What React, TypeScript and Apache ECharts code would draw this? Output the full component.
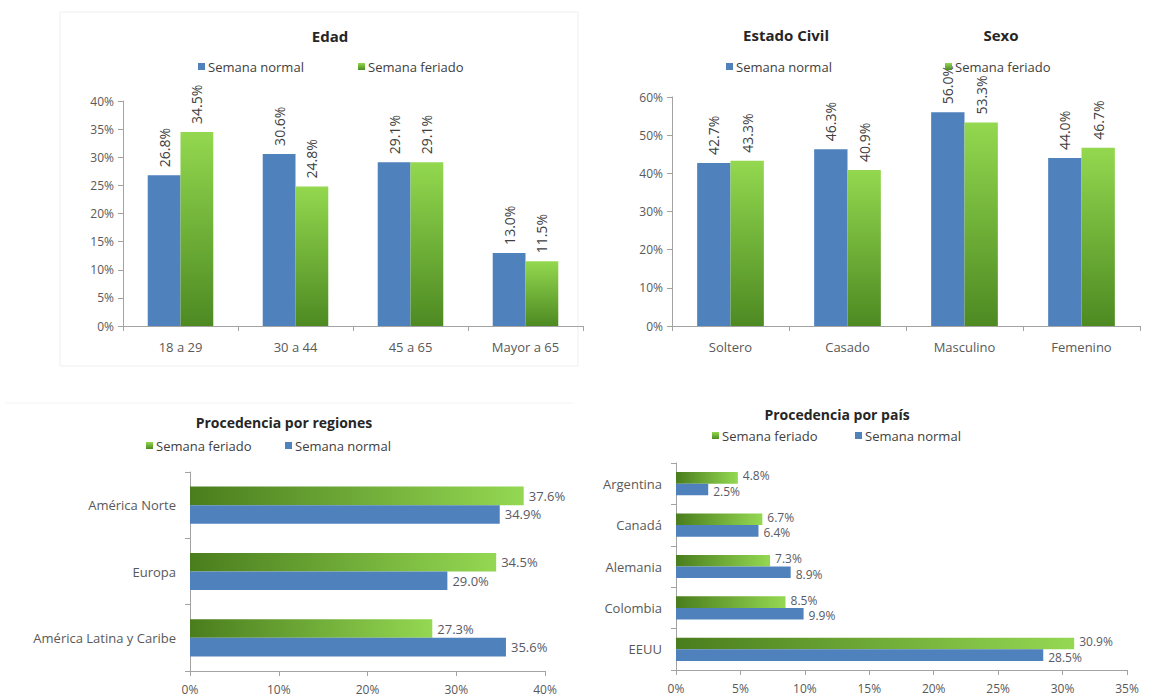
import React, { useEffect, useRef } from 'react';
import * as echarts from 'echarts';

// ---------- data ----------
const edadCategories = ['18 a 29', '30 a 44', '45 a 65', 'Mayor a 65'];
const edadNormal = [26.8, 30.6, 29.1, 13.0];
const edadFeriado = [34.5, 24.8, 29.1, 11.5];

const civilSexoCategories = ['Soltero', 'Casado', 'Masculino', 'Femenino'];
const civilSexoNormal = [42.7, 46.3, 56.0, 44.0];
const civilSexoFeriado = [43.3, 40.9, 53.3, 46.7];

const regionCategories = ['América Norte', 'Europa', 'América Latina y Caribe'];
const regionFeriado = [37.6, 34.5, 27.3];
const regionNormal = [34.9, 29.0, 35.6];

const paisCategories = ['Argentina', 'Canadá', 'Alemania', 'Colombia', 'EEUU'];
const paisFeriado = [4.8, 6.7, 7.3, 8.5, 30.9];
const paisNormal = [2.5, 6.4, 8.9, 9.9, 28.5];

const NORMAL = 'Semana normal';
const FERIADO = 'Semana feriado';

const FONT = '"Open Sans", "Noto Sans", sans-serif';
const AXIS_COLOR = '#a3a3a3';
const TEXT_COLOR = '#595959';
const BLUE = '#4f81bd';

export default function App() {
  const ref = useRef<HTMLDivElement>(null);

  useEffect(() => {
    if (!ref.current) return;
    const chart = echarts.init(ref.current, null, { renderer: 'svg' });

    const greenV = new echarts.graphic.LinearGradient(0, 0, 0, 1, [
      { offset: 0, color: '#93d84f' },
      { offset: 1, color: '#4d8a22' },
    ]);
    const greenH = new echarts.graphic.LinearGradient(0, 0, 1, 0, [
      { offset: 0, color: '#4a7d1d' },
      { offset: 1, color: '#94d852' },
    ]);

    const pct = (v: number) => v + '%';
    const fmt1 = (p: any) => Number(p.value).toFixed(1) + '%';

    const vLabel = {
      show: true,
      position: 'top',
      rotate: 90,
      align: 'left',
      verticalAlign: 'middle',
      distance: 8,
      color: '#404040',
      fontSize: 14,
      fontFamily: FONT,
      formatter: fmt1,
    };
    const hLabel = {
      show: true,
      position: 'right',
      distance: 5,
      color: '#5a5a66',
      fontSize: 13,
      fontFamily: FONT,
      formatter: fmt1,
    };
    const hLabelSmallUp = { ...hLabel, fontSize: 12, lineHeight: 12, offset: [0, -2] };
    const hLabelSmallDown = { ...hLabel, fontSize: 12, lineHeight: 12, offset: [0, 2] };

    const axisLine = { show: true, lineStyle: { color: AXIS_COLOR, width: 1 } };
    const axisTick = { show: true, length: 5, lineStyle: { color: AXIS_COLOR } };
    const valLabel = { color: TEXT_COLOR, fontSize: 12, fontFamily: FONT, formatter: pct, margin: 9 };
    const catLabelX = { color: TEXT_COLOR, fontSize: 13, fontFamily: FONT, margin: 14 };
    const catLabelY = { color: TEXT_COLOR, fontSize: 13, fontFamily: FONT, margin: 14 };

    const legendItem = (name: string, left: number, top: number) => ({
      data: [name],
      left,
      top,
      padding: 0,
      icon: 'rect',
      itemWidth: 7,
      itemHeight: 7,
      selectedMode: false,
      textStyle: { color: '#404040', fontSize: 13, fontFamily: FONT, padding: [0, 0, 0, -2] },
    });

    const titleText = (text: string, x: number, y: number, size: number) => ({
      type: 'text',
      x,
      y,
      style: {
        text,
        fill: '#262626',
        fontSize: size,
        fontWeight: 'bold',
        fontFamily: FONT,
        textAlign: 'center',
        textVerticalAlign: 'middle',
        align: 'center',
        verticalAlign: 'middle',
      },
    });

    const option: any = {
      animation: false,
      backgroundColor: '#ffffff',
      graphic: [
        {
          type: 'rect',
          shape: { x: 60, y: 12, width: 518, height: 354 },
          style: { fill: 'none', stroke: '#efefef', lineWidth: 1 },
          silent: true,
        },
        {
          type: 'line',
          shape: { x1: 5, y1: 403, x2: 572, y2: 403 },
          style: { stroke: '#f2f2f2', lineWidth: 1 },
          silent: true,
        },
        titleText('Edad', 330, 36, 15),
        titleText('Estado Civil', 786, 35, 15),
        titleText('Sexo', 1001, 35, 15),
        titleText('Procedencia por regiones', 284, 422, 14),
        titleText('Procedencia por país', 837, 414, 14),
      ],
      legend: [
        legendItem(NORMAL, 198, 60),
        legendItem(FERIADO, 358, 60),
        legendItem(NORMAL, 726, 60),
        legendItem(FERIADO, 945, 60),
        legendItem(FERIADO, 146, 439),
        legendItem(NORMAL, 285, 439),
        legendItem(FERIADO, 712, 429),
        legendItem(NORMAL, 855, 429),
      ],
      grid: [
        { left: 123, top: 101, width: 460, height: 225 },
        { left: 672, top: 97, width: 468, height: 229 },
        { left: 190, top: 472, width: 355, height: 199 },
        { left: 676, top: 463, width: 451, height: 207 },
      ],
      xAxis: [
        {
          gridIndex: 0,
          type: 'category',
          data: edadCategories,
          axisLine,
          axisTick,
          axisLabel: catLabelX,
        },
        {
          gridIndex: 1,
          type: 'category',
          data: civilSexoCategories,
          axisLine,
          axisTick,
          axisLabel: catLabelX,
        },
        {
          gridIndex: 2,
          type: 'value',
          min: 0,
          max: 40,
          interval: 10,
          axisLine,
          axisTick,
          splitLine: { show: false },
          axisLabel: { ...valLabel, margin: 12 },
        },
        {
          gridIndex: 3,
          type: 'value',
          min: 0,
          max: 35,
          interval: 5,
          axisLine,
          axisTick,
          splitLine: { show: false },
          axisLabel: { ...valLabel, margin: 12 },
        },
      ],
      yAxis: [
        {
          gridIndex: 0,
          type: 'value',
          min: 0,
          max: 40,
          interval: 5,
          axisLine,
          axisTick,
          splitLine: { show: false },
          axisLabel: valLabel,
        },
        {
          gridIndex: 1,
          type: 'value',
          min: 0,
          max: 60,
          interval: 10,
          axisLine,
          axisTick,
          splitLine: { show: false },
          axisLabel: valLabel,
        },
        {
          gridIndex: 2,
          type: 'category',
          inverse: true,
          data: regionCategories,
          axisLine,
          axisTick,
          axisLabel: catLabelY,
        },
        {
          gridIndex: 3,
          type: 'category',
          inverse: true,
          data: paisCategories,
          axisLine,
          axisTick,
          axisLabel: catLabelY,
        },
      ],
      series: [
        {
          name: NORMAL, type: 'bar', xAxisIndex: 0, yAxisIndex: 0,
          data: edadNormal, itemStyle: { color: BLUE },
          barGap: '0%', barCategoryGap: '43%', label: vLabel,
        },
        {
          name: FERIADO, type: 'bar', xAxisIndex: 0, yAxisIndex: 0,
          data: edadFeriado, itemStyle: { color: greenV },
          barGap: '0%', barCategoryGap: '43%', label: vLabel,
        },
        {
          name: NORMAL, type: 'bar', xAxisIndex: 1, yAxisIndex: 1,
          data: civilSexoNormal, itemStyle: { color: BLUE },
          barGap: '0%', barCategoryGap: '43%', label: vLabel,
        },
        {
          name: FERIADO, type: 'bar', xAxisIndex: 1, yAxisIndex: 1,
          data: civilSexoFeriado, itemStyle: { color: greenV },
          barGap: '0%', barCategoryGap: '43%', label: vLabel,
        },
        {
          name: FERIADO, type: 'bar', xAxisIndex: 2, yAxisIndex: 2,
          data: regionFeriado, itemStyle: { color: greenH },
          barGap: '0%', barCategoryGap: '44%', label: hLabel,
        },
        {
          name: NORMAL, type: 'bar', xAxisIndex: 2, yAxisIndex: 2,
          data: regionNormal, itemStyle: { color: BLUE },
          barGap: '0%', barCategoryGap: '44%', label: hLabel,
        },
        {
          name: FERIADO, type: 'bar', xAxisIndex: 3, yAxisIndex: 3,
          data: paisFeriado, itemStyle: { color: greenH },
          barGap: '0%', barCategoryGap: '44%', label: hLabelSmallUp,
        },
        {
          name: NORMAL, type: 'bar', xAxisIndex: 3, yAxisIndex: 3,
          data: paisNormal, itemStyle: { color: BLUE },
          barGap: '0%', barCategoryGap: '44%', label: hLabelSmallDown,
        },
      ],
    };

    chart.setOption(option);
    return () => chart.dispose();
  }, []);

  return (
    <div
      ref={ref}
      style={{ position: 'fixed', left: 0, top: 0, width: 1153, height: 698, background: '#fff' }}
    />
  );
}
